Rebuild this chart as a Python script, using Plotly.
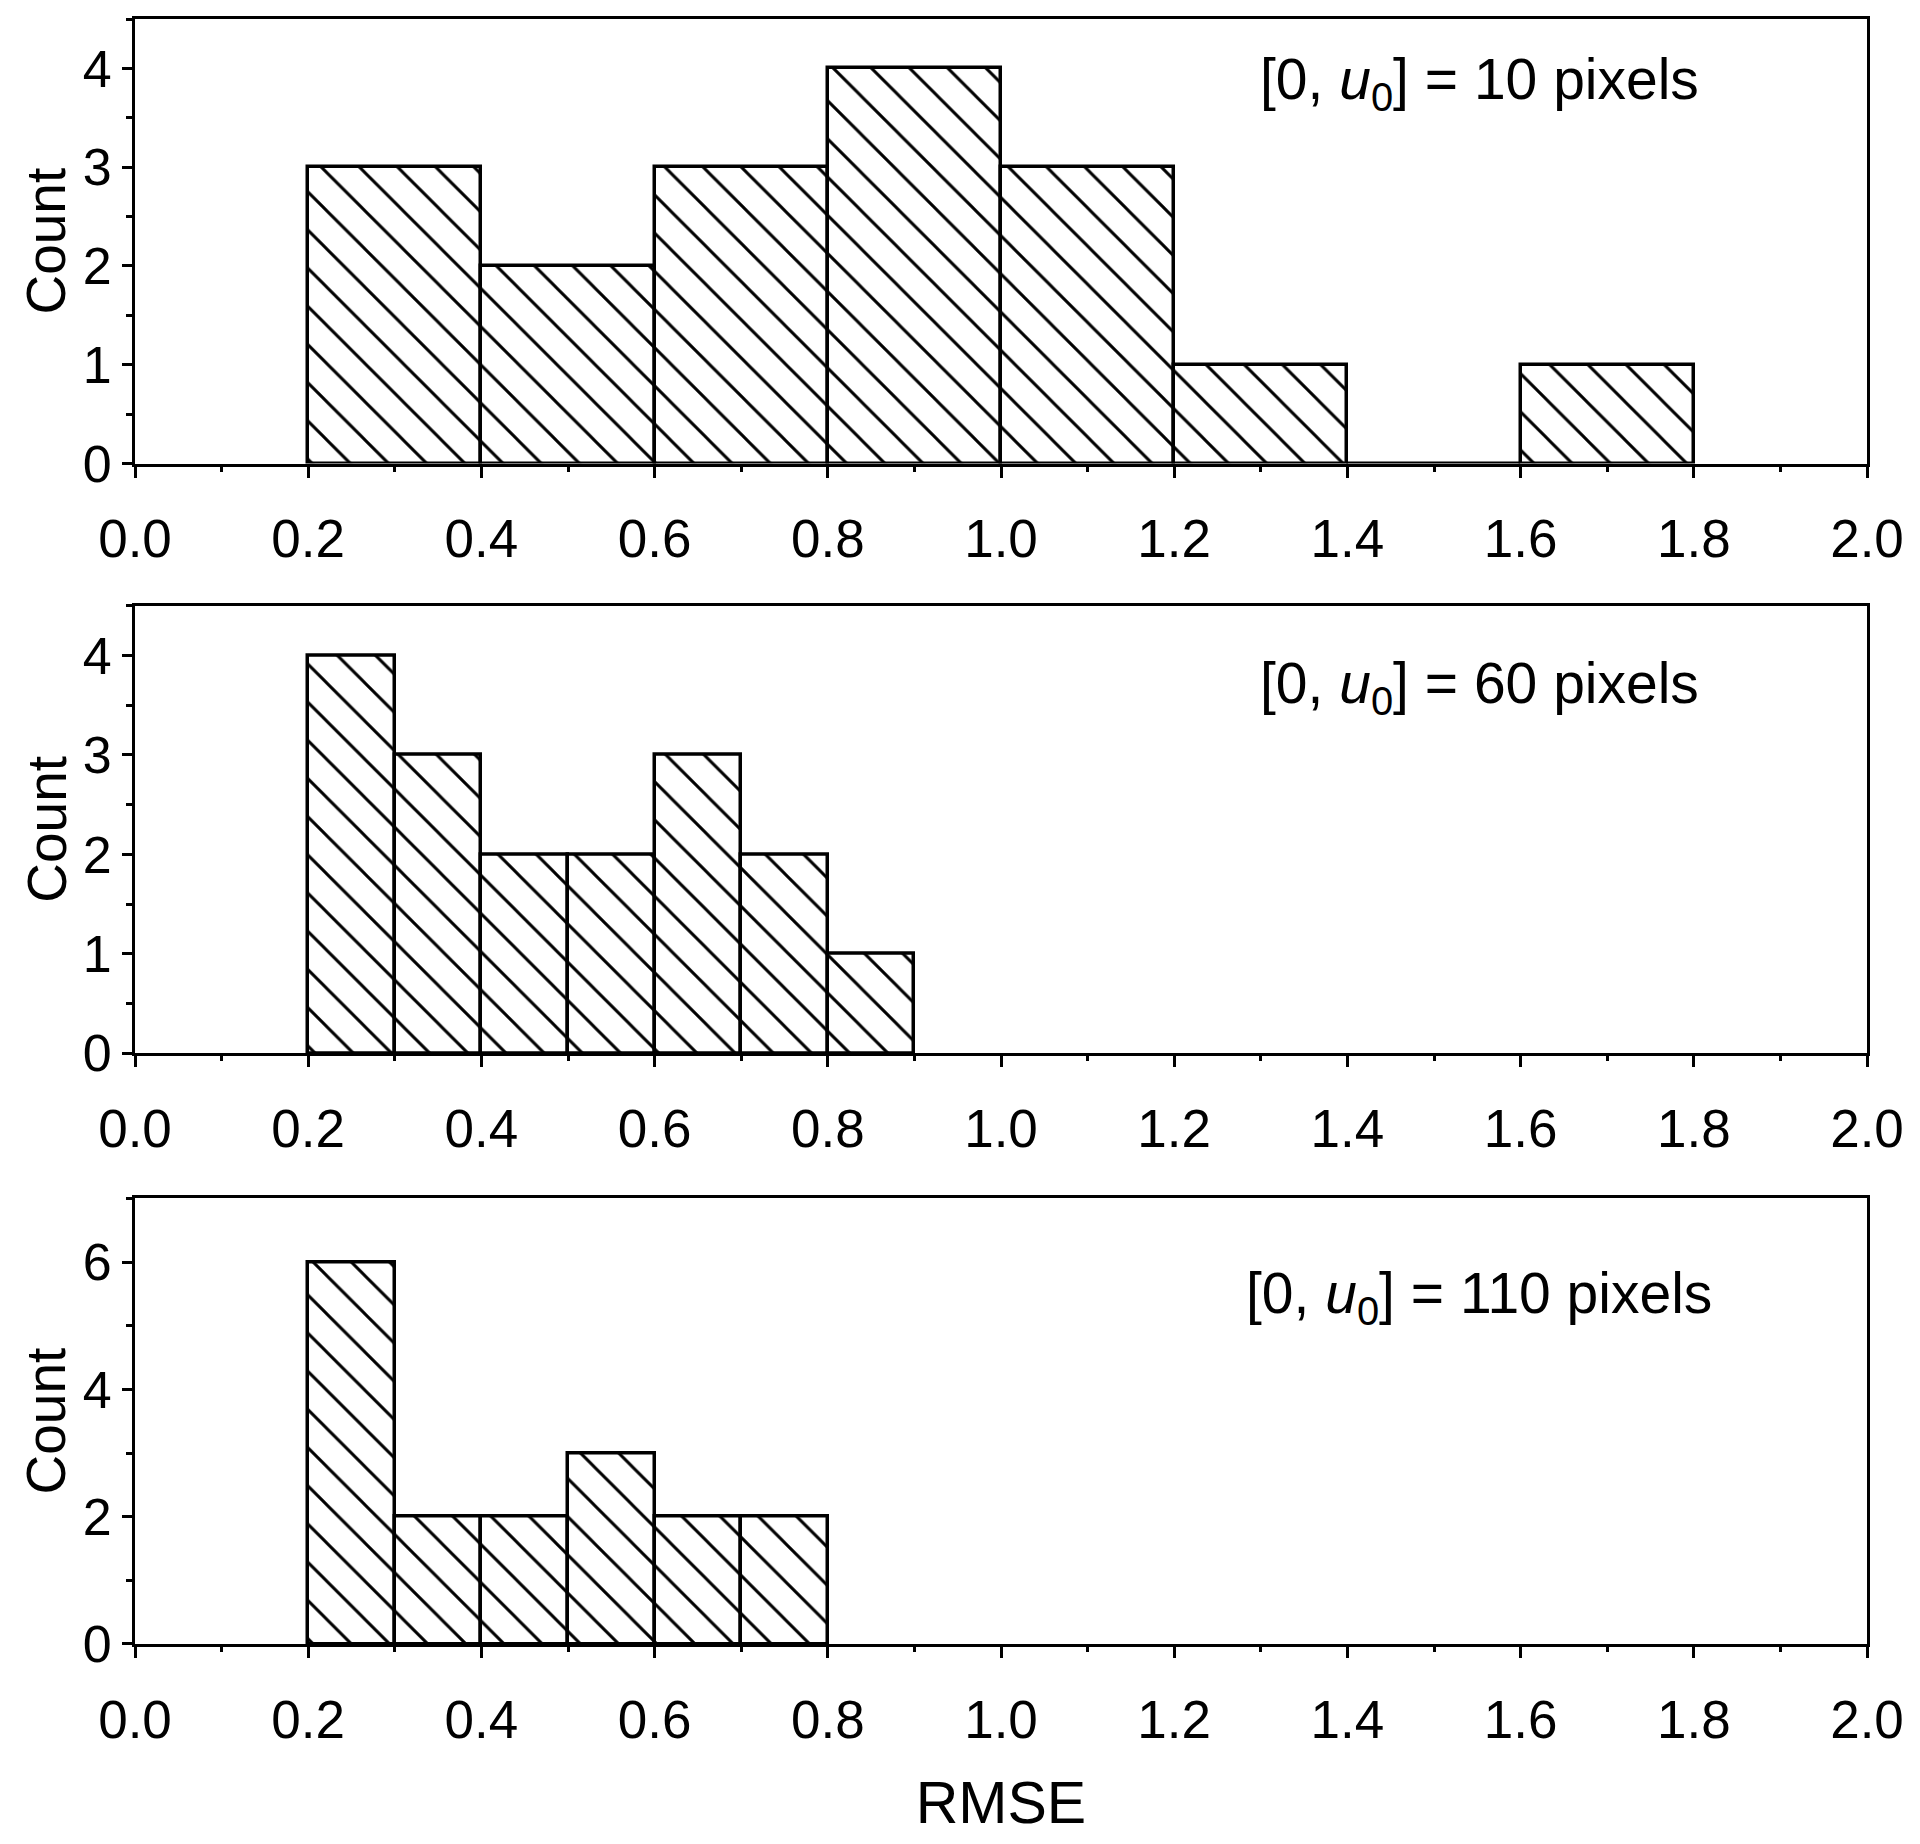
import plotly.graph_objects as go

# ---- data ----
bin_left_10 = [0.2, 0.4, 0.6, 0.8, 1.0, 1.2, 1.4, 1.6]
count_10 = [3, 2, 3, 4, 3, 1, 0, 1]
bin_width_10 = 0.2

bin_left_60 = [0.2, 0.3, 0.4, 0.5, 0.6, 0.7, 0.8]
count_60 = [4, 3, 2, 2, 3, 2, 1]
bin_width_60 = 0.1

bin_left_110 = [0.2, 0.3, 0.4, 0.5, 0.6, 0.7]
count_110 = [6, 2, 2, 3, 2, 2]
bin_width_110 = 0.1

range_labels = ["10", "60", "110"]
y_max = [4.5, 4.5, 7]
y_dtick = [1, 1, 2]
x_tickvals = [0.0, 0.2, 0.4, 0.6, 0.8, 1.0, 1.2, 1.4, 1.6, 1.8, 2.0]

panels = [
    (bin_left_10, count_10, bin_width_10),
    (bin_left_60, count_60, bin_width_60),
    (bin_left_110, count_110, bin_width_110),
]

FONT = "Liberation Sans, Arial, Helvetica, sans-serif"
PAGE_OFF = 8                      # default body margin of the html page
W, H = 1920 - 2 * PAGE_OFF, 1844 - 2 * PAGE_OFF
# desired page positions -> figure positions
ML = 135 - PAGE_OFF
MR = W - (1872 - PAGE_OFF)
MT = 16 - PAGE_OFF
MB = H - (1650 - PAGE_OFF)
plot_w = W - ML - MR
plot_h = H - MT - MB
panel_px = [(15 - PAGE_OFF, 463 - PAGE_OFF),
            (606 - PAGE_OFF, 1056 - PAGE_OFF),
            (1202 - PAGE_OFF, 1650 - PAGE_OFF)]

fig = go.Figure()
layout = dict(
    width=W, height=H,
    margin=dict(l=ML, r=MR, t=MT, b=MB),
    paper_bgcolor="white", plot_bgcolor="white",
    showlegend=False,
    font=dict(family=FONT, color="black", size=53),
    annotations=[],
    bargap=0,
)

for i, ((lefts, counts, w), lab) in enumerate(zip(panels, range_labels)):
    n = i + 1
    xa = "x" if n == 1 else f"x{n}"
    ya = "y" if n == 1 else f"y{n}"
    fig.add_trace(go.Bar(
        x=lefts, y=counts, width=w, offset=0,
        xaxis=xa, yaxis=ya,
        marker=dict(
            color="white",
            line=dict(color="black", width=3.5),
            pattern=dict(shape="\\", fgcolor="black", bgcolor="white",
                         fgopacity=1, fillmode="replace",
                         size=27, solidity=0.11),
        ),
        hoverinfo="x+y",
    ))
    top, bot = panel_px[i]
    d0 = (H - MB - bot) / plot_h
    d1 = min(1.0, (H - MB - top) / plot_h)
    axkw = dict(showline=True, linecolor="black", linewidth=3, mirror=True,
                showgrid=False, zeroline=False, ticks="outside",
                tickcolor="black", tickwidth=3)
    layout["xaxis" if n == 1 else f"xaxis{n}"] = dict(
        axkw, anchor=ya, domain=[0, 1], range=[0, 2.0],
        tickvals=x_tickvals, tickformat=".1f", ticklen=11,
        ticklabelstandoff=16,
        tickfont=dict(size=53, family=FONT),
        minor=dict(ticks="outside", dtick=0.1, ticklen=5, tickwidth=3,
                   tickcolor="black"),
    )
    layout["yaxis" if n == 1 else f"yaxis{n}"] = dict(
        axkw, anchor=xa, domain=[d0, d1], range=[0, y_max[i]],
        dtick=y_dtick[i], tick0=0, ticklen=10, ticklabelstandoff=0,
        tickfont=dict(size=52, family=FONT),
        minor=dict(ticks="outside", dtick=y_dtick[i] / 2, ticklen=6,
                   tickwidth=3, tickcolor="black"),
    )
    # y-axis title
    layout["annotations"].append(dict(
        text="Count", textangle=-90,
        xref="paper", yref=f"{ya} domain",
        x=(46 - PAGE_OFF - ML) / plot_w, y=0.5,
        xanchor="center", yanchor="middle", showarrow=False,
        font=dict(size=55, family=FONT, color="black"),
    ))
    ann_y = [0.856, 0.819, 0.778][i]
    layout["annotations"].append(dict(
        text=f"[0, <i>u</i><sub>0</sub>] = {lab} pixels",
        xref=f"{xa} domain", yref=f"{ya} domain",
        x=(1483 - 135) / plot_w, y=ann_y,
        xanchor="center", yanchor="middle", showarrow=False,
        font=dict(size=57, family=FONT, color="black"),
    ))

layout["xaxis3"]["title"] = dict(text="RMSE", font=dict(size=59, family=FONT), standoff=38)

fig.update_layout(**layout)
fig.write_html("out.html")
